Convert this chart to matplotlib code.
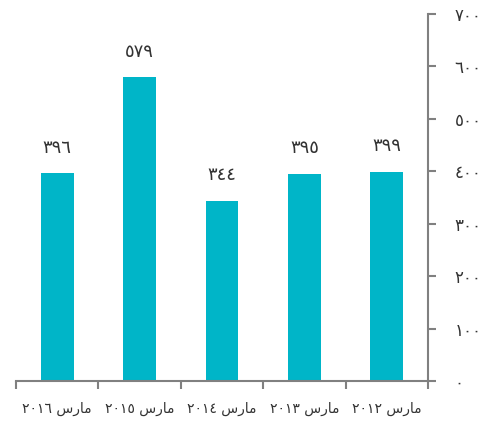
import numpy as np
import matplotlib.pyplot as plt

# "مارس" en formas de presentación, orden visual (matplotlib no une el árabe)
mes = "\uFEB1\uFEAD\uFE8E\uFEE3"
anios = ["٢٠١٦", "٢٠١٥", "٢٠١٤", "٢٠١٣", "٢٠١٢"]
valores = [396, 579, 344, 395, 399]
etiquetas_valor = ["٣٩٦", "٥٧٩", "٣٤٤", "٣٩٥", "٣٩٩"]
ticks_y = [0, 100, 200, 300, 400, 500, 600, 700]
etiquetas_y = ["٠", "١٠٠", "٢٠٠", "٣٠٠", "٤٠٠", "٥٠٠", "٦٠٠", "٧٠٠"]

plt.rcParams['font.family'] = ['DejaVu Sans']

fig = plt.figure(figsize=(4.9, 4.28), dpi=100)
ax = fig.add_axes([16 / 490, 47 / 428, 412 / 490, 367 / 428])

x = np.arange(len(valores))
barras = ax.bar(x, valores, width=0.4, color='#00B5C8')

for xi, v, t in zip(x, valores, etiquetas_valor):
    ax.annotate(t, (xi, v), xytext=(0, 12), textcoords='offset points',
                ha='center', va='bottom', fontsize=13, color='#333333')

ax.set_xlim(-0.5, len(valores) - 0.5)
ax.set_ylim(0, 700)

ax.set_xticks(x)
ax.set_xticklabels([a + " " + mes for a in anios], fontsize=10, color='#333333')
ax.set_xticks(np.arange(-0.5, len(valores)), minor=True)
ax.tick_params(axis='x', which='major', length=0, pad=15)
ax.tick_params(axis='x', which='minor', length=6, width=1.5, color='#808080')

ax.yaxis.tick_right()
ax.set_yticks(ticks_y)
ax.set_yticklabels(etiquetas_y, fontsize=12, color='#333333')
ax.tick_params(axis='y', length=6, width=1.5, color='#808080', pad=13)

for lado in ['top', 'left']:
    ax.spines[lado].set_visible(False)
for lado in ['bottom', 'right']:
    ax.spines[lado].set_color('#808080')
    ax.spines[lado].set_linewidth(1.5)

fig.savefig('out.png', dpi=100)
